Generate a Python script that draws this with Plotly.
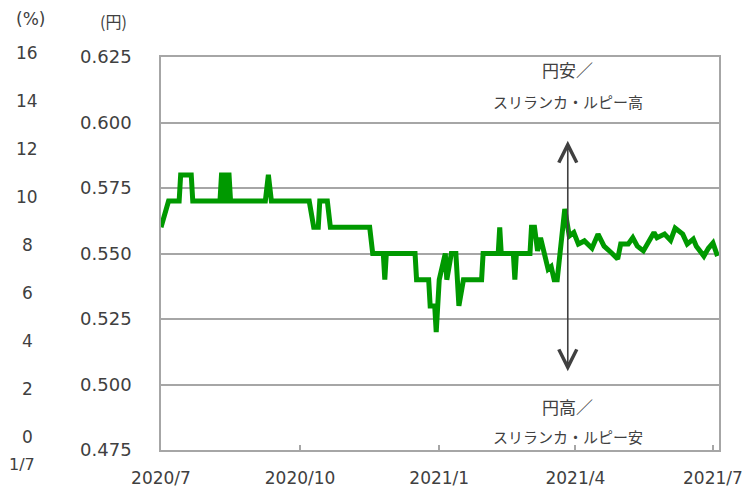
import plotly.graph_objects as go

# ---- data ----
dates = [
    "2020-07-01", "2020-07-06", "2020-07-13", "2020-07-14", "2020-07-21", "2020-07-22",
    "2020-08-09", "2020-08-10", "2020-08-11", "2020-08-12", "2020-08-13", "2020-08-14",
    "2020-08-15", "2020-08-16", "2020-09-08", "2020-09-10", "2020-09-12",
    "2020-10-07", "2020-10-10", "2020-10-13", "2020-10-14", "2020-10-19", "2020-10-21",
    "2020-11-16", "2020-11-18", "2020-11-25", "2020-11-26", "2020-11-27",
    "2020-12-16", "2020-12-17", "2020-12-25", "2020-12-26", "2020-12-29", "2020-12-30",
    "2021-01-01", "2021-01-05", "2021-01-06", "2021-01-09", "2021-01-12", "2021-01-14",
    "2021-01-17", "2021-01-29", "2021-01-30", "2021-02-09", "2021-02-10", "2021-02-11",
    "2021-02-19", "2021-02-20", "2021-02-21", "2021-03-02", "2021-03-03", "2021-03-05",
    "2021-03-07", "2021-03-09", "2021-03-14", "2021-03-16", "2021-03-18", "2021-03-20",
    "2021-03-25", "2021-03-28", "2021-03-31", "2021-04-03", "2021-04-07", "2021-04-12",
    "2021-04-16", "2021-04-20", "2021-04-25", "2021-04-29", "2021-05-01", "2021-05-06",
    "2021-05-09", "2021-05-12", "2021-05-16", "2021-05-23", "2021-05-25", "2021-05-30",
    "2021-06-03", "2021-06-06", "2021-06-11", "2021-06-14", "2021-06-18", "2021-06-20",
    "2021-06-25", "2021-06-28", "2021-07-01", "2021-07-04",
]
jpy_per_lkr = [
    0.560, 0.570, 0.570, 0.580, 0.580, 0.570,
    0.570, 0.580, 0.580, 0.570, 0.570, 0.580,
    0.580, 0.570, 0.570, 0.580, 0.570,
    0.570, 0.560, 0.560, 0.570, 0.570, 0.560,
    0.560, 0.550, 0.550, 0.540, 0.550,
    0.550, 0.540, 0.540, 0.530, 0.530, 0.520,
    0.540, 0.550, 0.540, 0.550, 0.550, 0.530,
    0.540, 0.540, 0.550, 0.550, 0.560, 0.550,
    0.550, 0.540, 0.550, 0.550, 0.560, 0.560,
    0.551, 0.556, 0.544, 0.545, 0.540, 0.540,
    0.567, 0.5567, 0.558, 0.5536, 0.5548, 0.552,
    0.5574, 0.5528, 0.5502, 0.5479, 0.5536, 0.5536,
    0.556, 0.5528, 0.551, 0.558, 0.556, 0.5574,
    0.555, 0.5597, 0.5574, 0.5536, 0.5555, 0.5528,
    0.549, 0.552, 0.554, 0.549,
]

x_tick_dates = ["2020-07-01", "2020-10-01", "2021-01-01", "2021-04-01", "2021-07-01"]
x_tick_labels = ["2020/7", "2020/10", "2021/1", "2021/4", "2021/7"]
pct_ticks = [0, 2, 4, 6, 8, 10, 12, 14, 16]
cut_label = "1/7"

arrow_date = "2021-03-27"
arrow_top = 0.593
arrow_bottom = 0.5045
label_top = ["円安／", "スリランカ・ルピー高"]
label_bottom = ["円高／", "スリランカ・ルピー安"]

# ---- figure ----
W, H = 755, 488
OFF = 8  # page body margin offset
# target plot box in window pixels: left 161, right 719, top 57, bottom 450
ML, MR, MT, MB = 161 - OFF, W - (719 - OFF), 57 - OFF, H - (450 - OFF)
NUM_FONT = "DejaVu Sans"
JP_FONT = "Noto Sans CJK JP"
TXT = "#404040"
GRID = "#A6A6A6"

fig = go.Figure()
fig.add_trace(go.Scatter(
    x=dates, y=jpy_per_lkr, mode="lines",
    line=dict(color="#009900", width=5),
    hoverinfo="skip", showlegend=False,
))

fig.update_layout(
    width=W, height=H,
    margin=dict(l=ML, r=MR, t=MT, b=MB, autoexpand=False),
    paper_bgcolor="white", plot_bgcolor="white",
    font=dict(family=NUM_FONT, size=17, color=TXT),
    showlegend=False,
)
fig.update_xaxes(
    type="date", range=["2020-07-01", "2021-07-05"],
    tickvals=x_tick_dates, ticktext=x_tick_labels,
    showgrid=False, showline=True, linecolor=GRID, linewidth=1.5, mirror=True,
    ticks="inside", ticklen=5, tickcolor=GRID, tickwidth=1.5,
    tickfont=dict(family=NUM_FONT, size=17, color=TXT),
    ticklabelstandoff=12, zeroline=False, automargin=False,
)
fig.update_yaxes(
    range=[0.475, 0.625], dtick=0.025, tick0=0.475, tickformat=".3f",
    showgrid=True, gridcolor=GRID, gridwidth=1.5,
    showline=True, linecolor=GRID, linewidth=1.5, mirror=True,
    ticks="", tickfont=dict(family=NUM_FONT, size=18, color=TXT),
    ticklabelstandoff=24, zeroline=False, automargin=False,
)

ph = H - MT - MB
pw = W - ML - MR

def px_to_paper_x(px):
    return (px - OFF - ML) / pw

def px_to_paper_y(py):
    return (H - MB - (py - OFF)) / ph

# double-headed arrow
fig.add_annotation(
    x=arrow_date, y=arrow_top, ax=arrow_date, ay=arrow_bottom,
    xref="x", yref="y", axref="x", ayref="y",
    showarrow=True, text="", arrowhead=5, startarrowhead=5,
    arrowside="end+start", arrowsize=2.2, arrowwidth=1.6, arrowcolor="#404040",
    startarrowsize=2.2,
)

for txt, yv, sz in zip(label_top, [0.6203, 0.6080], [17, 15]):
    fig.add_annotation(x=arrow_date, y=yv, xref="x", yref="y", text=txt,
                       xanchor="center", yanchor="middle",
                       showarrow=False, font=dict(family=JP_FONT, size=sz, color=TXT))
for txt, yv, sz in zip(label_bottom, [0.4916, 0.4800], [17, 15]):
    fig.add_annotation(x=arrow_date, y=yv, xref="x", yref="y", text=txt,
                       xanchor="center", yanchor="middle",
                       showarrow=False, font=dict(family=JP_FONT, size=sz, color=TXT))

def paper_text(px, py, text, font, size, xanchor="center"):
    fig.add_annotation(x=px_to_paper_x(px), y=px_to_paper_y(py), xref="paper", yref="paper",
                       xanchor=xanchor, yanchor="middle", text=text, showarrow=False,
                       borderpad=0, font=dict(family=font, size=size, color=TXT))

# axis unit labels
paper_text(113, 21, "(円)", JP_FONT, 16)
paper_text(30, 19, "(%)", NUM_FONT, 17)

# residual percent axis labels at the far left
for v in pct_ticks:
    paper_text(27, 437 - v * 24, str(v), NUM_FONT, 17)
# left-edge date label
paper_text(36, 464, cut_label, NUM_FONT, 16, xanchor="right")

fig.write_html("out.html")
